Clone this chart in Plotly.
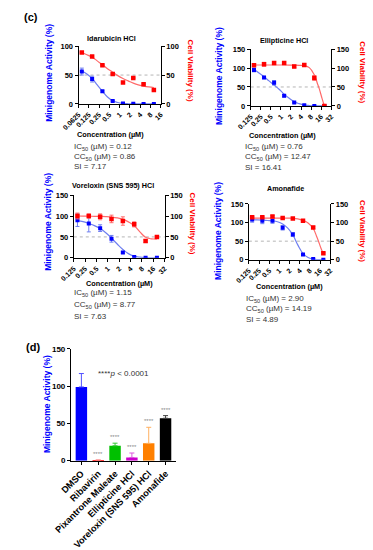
import math
import plotly.graph_objects as go

W, H = 373, 550
FONT = "Liberation Sans, Arial, sans-serif"
BLUE, RED = "#0000ff", "#ff0000"
BLUE_FIT, RED_FIT = "#6f7ff0", "#ff6a6a"

# ---------------- data ----------------
conc_idar = [0.078125, 0.15625, 0.3125, 0.625, 1.25, 2.5, 5, 10]
conc_std = [0.15625, 0.3125, 0.625, 1.25, 2.5, 5, 10, 20]

fit_x_idar = [0.078125, 0.11, 0.15625, 0.22, 0.3125, 0.44, 0.625, 0.88, 1.25, 1.77, 2.5, 3.5, 5, 7.07, 10]
fit_x_std = [0.15625, 0.22, 0.3125, 0.44, 0.625, 0.88, 1.25, 1.77, 2.5, 3.5, 5, 7.07, 10, 12.5, 14.1, 17, 20]

# Idarubicin HCl
idar_mg = [56, 43, 22, 5, 1, 0.3, 0, 0]
idar_mg_err = [6, 5, 1.5, 1, 0.5, 0, 0, 0]
idar_cv = [89, 82, 67, 52, 37, 45, 34, 24]
idar_cv_err = [1, 1, 1, 1, 1, 1, 1, 1]
idar_mg_fit = [57, 52, 44, 33, 22, 12, 5.5, 2.5, 1, 0.4, 0.2, 0.05, 0, 0, 0]
idar_cv_fit = [89, 85, 81, 74.5, 68, 61, 55, 49, 44, 40, 36, 33, 31, 29.5, 28.5]

# Ellipticine HCl
elli_mg = [95, 75, 61, 27, 9, 2, 0, 0]
elli_mg_err = [5, 3, 6, 3, 1, 0.5, 0, 0]
elli_cv = [107, 110, 113, 113, 104, 108, 74, 0]
elli_cv_err = [3, 5, 4, 3, 3, 3, 6, 0]
elli_mg_fit = [96, 87, 77, 66, 55, 44, 31, 20, 11, 6, 2.5, 1, 0.3, 0.1, 0, 0, 0]
elli_cv_fit = [108, 108, 108, 108, 108, 108, 108, 107.8, 107.5, 107, 106, 101, 82, 58, 45, 20, 0]

# Voreloxin (SNS 595) HCl
vore_mg = [90, 82, 71, 45.5, 12.5, 2, 0.3, 0]
vore_mg_err = [15, 20, 8, 8, 2, 1, 0, 0]
vore_cv = [100, 100, 98, 93, 88, 80, 40, 50]
vore_cv_err = [7, 5, 7, 9, 10, 6, 3, 3]
vore_mg_fit = [89, 86.5, 82, 77, 70, 60, 47, 33, 20, 10, 4, 1.5, 0.5, 0.2, 0.1, 0, 0]
vore_cv_fit = [100, 99.8, 99.5, 99.3, 99, 98.5, 97.5, 95.5, 92, 86, 77, 62, 49, 46.5, 45.5, 45, 45]

# Amonafide
amon_mg = [108, 105, 105, 86, 68, 14, 2, 0]
amon_mg_err = [7, 8, 7, 6, 5, 2, 1, 0]
amon_cv = [114, 114, 116, 112, 111, 105, 87, 17.5]
amon_cv_err = [2, 2, 3, 1, 1, 2, 3, 2]
amon_mg_fit = [107, 107, 106.5, 105.5, 104.5, 102, 96, 85, 67, 40, 17, 6, 2, 0.8, 0.5, 0.2, 0]
amon_cv_fit = [112, 112, 112, 112, 112, 112, 112, 111.8, 111.5, 110, 106, 99, 84, 64, 52, 31, 16]

tick_idar = [0.0625, 0.125, 0.25, 0.5, 1, 2, 4, 8, 16]
tick_idar_txt = ["0.0625", "0.125", "0.25", "0.5", "1", "2", "4", "8", "16"]
tick_std = [0.125, 0.25, 0.5, 1, 2, 4, 8, 16, 32]
tick_std_txt = ["0.125", "0.25", "0.5", "1", "2", "4", "8", "16", "32"]

titles = ["Idarubicin HCl", "Ellipticine HCl", "Voreloxin (SNS 595) HCl", "Amonafide"]
ic50 = ["0.12", "0.76", "1.15", "2.90"]
cc50 = ["0.86", "12.47", "8.77", "14.19"]
si = ["7.17", "16.41", "7.63", "4.89"]

# Bar chart (d)
bar_names = ["DMSO", "Ribavirin", "Pixantrone Maleate", "Ellipticine HCl",
             "Voreloxin (SNS 595) HCl", "Amonafide"]
bar_vals = [99, 0.5, 20, 4.3, 23.3, 57]
bar_errs = [18, 0.5, 3.5, 6, 21.5, 3.5]
bar_colors = ["#0000ff", "#ff0000", "#00c000", "#cc00cc", "#ff8000", "#000000"]
bar_err_colors = ["#5050ff", "#ff8080", "#30c830", "#dd55dd", "#ffb060", "#444444"]
bar_stars = ["", "****", "****", "****", "****", "****"]

# ---------------- layout helpers ----------------
def px(x):
    return x / W

def py(y):
    return 1 - y / H

panels = [
    dict(x=(65, 152), y=(43, 102), rng=100, conc=conc_idar, fx=fit_x_idar, ticks=tick_idar, tt=tick_idar_txt,
         mg=idar_mg, mge=idar_mg_err, cv=idar_cv, cve=idar_cv_err, mgf=idar_mg_fit, cvf=idar_cv_fit,
         title=(100, 35), xt=(99, 133), lt=(33, 70), rt=(183, 68), info=(58, 146, 10)),
    dict(x=(247, 332), y=(46, 104), rng=150, conc=conc_std, fx=fit_x_std, ticks=tick_std, tt=tick_std_txt,
         mg=elli_mg, mge=elli_mg_err, cv=elli_cv, cve=elli_cv_err, mgf=elli_mg_fit, cvf=elli_cv_fit,
         title=(282, 37), xt=(281, 134), lt=(213, 74), rt=(365, 70), info=(239, 146, 10.5)),
    dict(x=(60, 156), y=(195, 259), rng=150, conc=conc_std, fx=fit_x_std, ticks=tick_std, tt=tick_std_txt,
         mg=vore_mg, mge=vore_mg_err, cv=vore_cv, cve=vore_cv_err, mgf=vore_mg_fit, cvf=vore_cv_fit,
         title=(101, 185), xt=(108, 285), lt=(32, 222), rt=(185, 224), info=(58, 295, 12)),
    dict(x=(245, 331), y=(204, 261), rng=150, conc=conc_std, fx=fit_x_std, ticks=tick_std, tt=tick_std_txt,
         mg=amon_mg, mge=amon_mg_err, cv=amon_cv, cve=amon_cv_err, mgf=amon_mg_fit, cvf=amon_cv_fit,
         title=(284, 188), xt=(288, 288), lt=(213, 232), rt=(365, 232), info=(240, 301, 10.5)),
]

fig = go.Figure()
layout = dict(width=W, height=H, margin=dict(l=0, r=0, t=0, b=0), autosize=False,
              paper_bgcolor="white", plot_bgcolor="white", showlegend=False,
              font=dict(family=FONT, color="#000"), barmode="overlay")
annotations = []
shapes = []

axis_common = dict(showgrid=False, zeroline=False, showline=True, linecolor="#000", linewidth=1,
                   ticks="outside", ticklen=3, tickwidth=1, tickcolor="#000")

def ann(text, x, y, size=8, bold=False, color="#000", angle=0, xanchor="center", yanchor="middle"):
    annotations.append(dict(text=text, x=px(x), y=py(y), xref="paper", yref="paper", showarrow=False,
                            textangle=angle, xanchor=xanchor, yanchor=yanchor,
                            font=dict(family=FONT, size=size, color=color,
                                      weight="bold" if bold else "normal")))

for i, p in enumerate(panels):
    n = i + 1
    xa = f"xaxis{n}" if n > 1 else "xaxis"
    yl_id, yr_id = 2 * n - 1, 2 * n
    yla = f"yaxis{yl_id}" if yl_id > 1 else "yaxis"
    yra = f"yaxis{yr_id}"
    xref = f"x{n}" if n > 1 else "x"
    ylref = f"y{yl_id}" if yl_id > 1 else "y"
    yrref = f"y{yr_id}"
    lo, hi = math.log10(p["ticks"][0]), math.log10(p["ticks"][-1])
    layout[xa] = dict(axis_common, type="log", domain=[px(p["x"][0]), px(p["x"][1])], anchor=ylref,
                      range=[lo, hi], tickvals=p["ticks"], ticktext=p["tt"], tickangle=-45,
                      tickfont=dict(size=7, weight="bold", family=FONT))
    yt = [0, 50, 100] if p["rng"] == 100 else [0, 50, 100, 150]
    layout[yla] = dict(axis_common, domain=[py(p["y"][1]), py(p["y"][0])], anchor=xref,
                       range=[0, p["rng"]], tickvals=yt, tickfont=dict(size=7.5, weight="bold", family=FONT))
    layout[yra] = dict(axis_common, overlaying=ylref, side="right", anchor=xref,
                       range=[0, p["rng"]], tickvals=yt, tickfont=dict(size=7.5, weight="bold", family=FONT))
    shapes.append(dict(type="line", xref=f"{xref} domain", yref=ylref, x0=0, x1=1, y0=50, y1=50,
                       line=dict(color="#b5b5b5", width=1, dash="dot"), layer="below"))
    # fits
    fig.add_trace(go.Scatter(x=p["fx"], y=p["mgf"], mode="lines",
                             line=dict(color=BLUE_FIT, width=1.2, shape="spline", smoothing=1.2),
                             xaxis=xref, yaxis=ylref, hoverinfo="skip"))
    fig.add_trace(go.Scatter(x=p["fx"], y=p["cvf"], mode="lines",
                             line=dict(color=RED_FIT, width=1.2, shape="spline", smoothing=1.2),
                             xaxis=xref, yaxis=yrref, hoverinfo="skip"))
    # points
    fig.add_trace(go.Scatter(x=p["conc"], y=p["cv"], mode="markers",
                             marker=dict(symbol="square", size=4.5, color=RED),
                             error_y=dict(type="data", array=p["cve"], color=RED_FIT, thickness=1, width=2),
                             xaxis=xref, yaxis=yrref))
    fig.add_trace(go.Scatter(x=p["conc"], y=p["mg"], mode="markers",
                             marker=dict(symbol="square", size=4, color=BLUE),
                             error_y=dict(type="data", array=p["mge"], color=BLUE_FIT, thickness=1, width=2),
                             xaxis=xref, yaxis=ylref))
    # texts
    ann(titles[i], *p["title"], size=7.2, bold=True)
    ann("Concentration (µM)", *p["xt"], size=7.3, bold=True)
    ann("Minigenome Activity (%)", *p["lt"], size=8.5, bold=True, color=BLUE, angle=-90)
    ann("Cell Viability (%)", *p["rt"], size=8, bold=True, color=RED, angle=90)
    ix, iy, dy = p["info"]
    ann(f"IC<sub>50</sub> (µM) = {ic50[i]}", ix, iy, size=8, color="#333", xanchor="left")
    ann(f"CC<sub>50</sub> (µM) = {cc50[i]}", ix, iy + dy, size=8, color="#333", xanchor="left")
    ann(f"SI = {si[i]}", ix, iy + 2 * dy, size=8, color="#333", xanchor="left")

# ---------------- bar chart (d) ----------------
layout["xaxis5"] = dict(axis_common, domain=[px(57), px(168)], anchor="y9", type="category",
                        categoryorder="array", categoryarray=bar_names, range=[-0.62, 5.62],
                        tickangle=-45, tickfont=dict(size=9.2, weight="bold", family=FONT))
layout["yaxis9"] = dict(axis_common, domain=[py(466), py(352)], anchor="x5", range=[0, 150],
                        tickvals=[0, 50, 100, 150], tickfont=dict(size=8, weight="bold", family=FONT))
for name, v, e, c, ec, s in zip(bar_names, bar_vals, bar_errs, bar_colors, bar_err_colors, bar_stars):
    fig.add_trace(go.Bar(x=[name], y=[v], width=0.68, marker=dict(color=c, line=dict(width=0)),
                         error_y=dict(type="data", array=[e], arrayminus=[0], symmetric=False,
                                      color=ec, thickness=1, width=2.5),
                         xaxis="x5", yaxis="y9"))
    if s:
        annotations.append(dict(text=s, x=name, y=v + e, xref="x5", yref="y9", showarrow=False,
                                yanchor="bottom", yshift=1,
                                font=dict(family=FONT, size=6, color="#888")))

ann("Minigenome Activity (%)", 32, 408, size=8.5, bold=True, color=BLUE, angle=-90)
ann("****<i>p</i> < 0.0001", 83, 377, size=8, color="#333", xanchor="left")
ann("(c)", 5, 13, size=11, bold=True, xanchor="left")
ann("(d)", 7, 350, size=11, bold=True, xanchor="left")

layout["annotations"] = annotations
layout["shapes"] = shapes
fig.update_layout(**layout)
fig.write_html("out.html", config={"displayModeBar": False},
               post_script="document.body.style.margin='0px';document.body.style.overflow='hidden';")
